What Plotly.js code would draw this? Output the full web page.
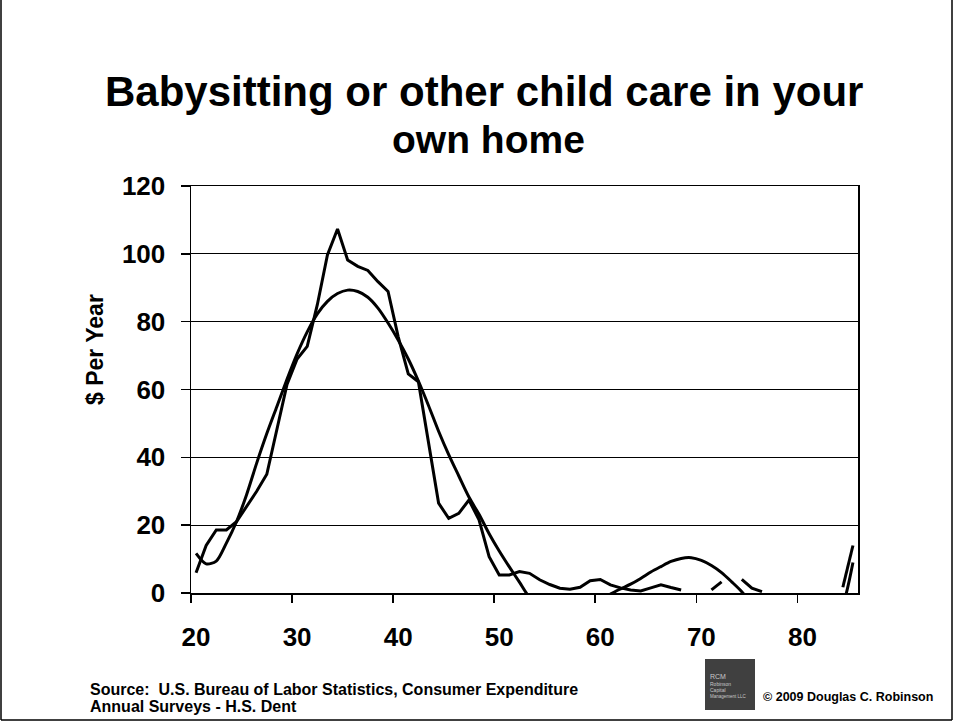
<!DOCTYPE html>
<html>
<head>
<meta charset="utf-8">
<script src="https://cdn.plot.ly/plotly-3.0.1.min.js"></script>
<style>html,body{margin:0;padding:0;background:#fff;}#chart{width:954px;height:723px;}</style>
</head>
<body>
<div id="chart"></div>
<script>
// ---- data ----
const ages = [20,21,22,23,24,25,26,27,28,29,30,31,32,33,34,35,36,37,38,39,40,41,42,43,44,45,46,47,48,49,50,51,52,53,54,55,56,57,58,59,60,61,62,63,64,65,66,67,68,69,70,71,72,73,74,75,76,77,78,79,80,81,82,83,84,85];
const rawSpending = [6,14,18.6,18.6,21,25.5,30,35,48,61.5,
  69,72.7,85,99.7,107.3,98.2,96.3,95.1,91.8,88.9,
  75.6,64.6,62.3,44.5,26.5,22,23.5,27.4,21.6,10.7,
  5.3,5.3,6.3,5.8,3.9,2.5,1.4,1.1,1.7,3.6,
  4,2.4,1.5,0.9,0.6,1.5,2.4,1.6,0.9,null,
  null,0.9,3.3,null,4.0,1.4,0.4,null,null,null,
  null,null,null,null,1.7,14];
const trendSpending = [11.7,8.6,9.4,14.7,21,29,38.3,47,55,63,
  70.5,77,82.3,86,88.3,89.3,88.9,87.2,84,79.6,
  74.6,69,62.5,55.3,47.7,40.8,34.5,28.3,23.2,17.5,
  12.4,7.7,3.2,-1.3,-3.8,-5.3,-6,-5.8,-5,-3.7,
  -2.1,-0.3,1.2,2.6,4.3,6.2,7.8,9.3,10.2,10.4,
  9.6,8.1,6,3.3,0.4,-3.5,-7,-10,-12.5,-14,
  -14.5,-14,-12,-8.5,-3.5,9];
const xTickVals = [20,30,40,50,60,70,80];
const xTickText = ['20','30','40','50','60','70','80'];
const yTickVals = [0,20,40,60,80,100,120];
const titleLines = ['Babysitting or other child care in your','own home'];
const yTitle = '$ Per Year';
const sourceLines = ['Source:\u00a0\u00a0U.S. Bureau of Labor Statistics, Consumer Expenditure','Annual Surveys - H.S. Dent'];
const copyrightText = '\u00a9 2009 Douglas C. Robinson';
const logoLines = ['RCM','Robinson','Capital','Management LLC'];

// ---- layout helpers (pixel -> paper) ----
const W = 954, H = 723, L = 191, R = 96, T = 186, B = 130;
const pw = W - L - R, ph = H - T - B;
const px = x => (x - L) / pw;
const py = y => (H - B - y) / ph;
const FONT = 'Liberation Sans, Arial, sans-serif';

const traces = [
  {x: ages, y: trendSpending, type: 'scatter', mode: 'lines',
   line: {color: '#000', width: 3, shape: 'spline', smoothing: 0.8}, connectgaps: false, hoverinfo: 'skip'},
  {x: ages, y: rawSpending, type: 'scatter', mode: 'lines',
   line: {color: '#000', width: 3}, connectgaps: false, hoverinfo: 'skip'}
];

const ann = [];
ann.push({xref:'paper', yref:'paper', x: px(484), y: py(92), xanchor:'center', yanchor:'middle',
  text: '<b>' + titleLines[0] + '</b>', showarrow:false, font:{family:FONT, size:42, color:'#000'}});
ann.push({xref:'paper', yref:'paper', x: px(488), y: py(139), xanchor:'center', yanchor:'middle',
  text: '<b>' + titleLines[1] + '</b>', showarrow:false, font:{family:FONT, size:39, color:'#000'}});
ann.push({xref:'paper', yref:'paper', x: px(95), y: py(350), xanchor:'center', yanchor:'middle', textangle:-90,
  text: '<b>' + yTitle + '</b>', showarrow:false, font:{family:FONT, size:23, color:'#000'}});
ann.push({xref:'paper', yref:'paper', x: px(88), y: py(689), xanchor:'left', yanchor:'middle', align:'left',
  text: '<b>' + sourceLines[0] + '</b>', showarrow:false, font:{family:FONT, size:16, color:'#000'}});
ann.push({xref:'paper', yref:'paper', x: px(88), y: py(706), xanchor:'left', yanchor:'middle', align:'left',
  text: '<b>' + sourceLines[1] + '</b>', showarrow:false, font:{family:FONT, size:16, color:'#000'}});
ann.push({xref:'paper', yref:'paper', x: px(761), y: py(697), xanchor:'left', yanchor:'middle',
  text: '<b>' + copyrightText + '</b>', showarrow:false, font:{family:FONT, size:12.5, color:'#000'}});
const logoY = [676, 684, 690, 696];
const logoSize = [7, 5, 5, 4.5];
logoLines.forEach((t, i) => ann.push({xref:'paper', yref:'paper', x: px(708), y: py(logoY[i]), xanchor:'left', yanchor:'middle',
  text: t, showarrow:false, font:{family:FONT, size:logoSize[i], color:'#c8c8c8'}}));

const shapes = [
  {type:'rect', xref:'paper', yref:'paper', x0: px(705), x1: px(755), y0: py(710), y1: py(659),
   fillcolor:'#404040', line:{width:0}},
  {type:'line', xref:'paper', yref:'paper', x0: px(1), x1: px(1), y0: py(0), y1: py(720), line:{color:'#000', width:1.5}},
  {type:'line', xref:'paper', yref:'paper', x0: px(952), x1: px(952), y0: py(0), y1: py(720), line:{color:'#000', width:1.5}},
  {type:'line', xref:'paper', yref:'paper', x0: px(1), x1: px(952), y0: py(720), y1: py(720), line:{color:'#000', width:1.5}}
];

const layout = {
  width: W, height: H,
  margin: {l: L, r: R, t: T, b: B, pad: 0},
  paper_bgcolor: '#fff', plot_bgcolor: '#fff',
  showlegend: false,
  font: {family: FONT, color: '#000'},
  xaxis: {
    range: [19.5, 85.5], tickmode: 'array', tickvals: xTickVals, ticktext: xTickText,
    ticks: '', showgrid: false, zeroline: false, showline: true, linecolor: '#000', linewidth: 1.5, mirror: true,
    tickfont: {family: FONT, size: 26, color: '#000', weight: 'bold'}, ticklabelstandoff: 20,
    minor: {tickmode: 'linear', tick0: 29.5, dtick: 10, ticks: 'outside', ticklen: 8, tickwidth: 1.5, tickcolor: '#000', showgrid: false}
  },
  yaxis: {
    range: [0, 120], tickmode: 'array', tickvals: yTickVals,
    ticks: 'outside', ticklen: 9, tickwidth: 1.5, tickcolor: '#000',
    showgrid: true, gridcolor: '#000', gridwidth: 1.2, zeroline: false,
    showline: true, linecolor: '#000', linewidth: 1.5, mirror: true,
    tickfont: {family: FONT, size: 26, color: '#000', weight: 'bold'}, ticklabelstandoff: 10
  },
  annotations: ann,
  shapes: shapes
};

Plotly.newPlot('chart', traces, layout, {staticPlot: true, displayModeBar: false});
</script>
</body>
</html>
